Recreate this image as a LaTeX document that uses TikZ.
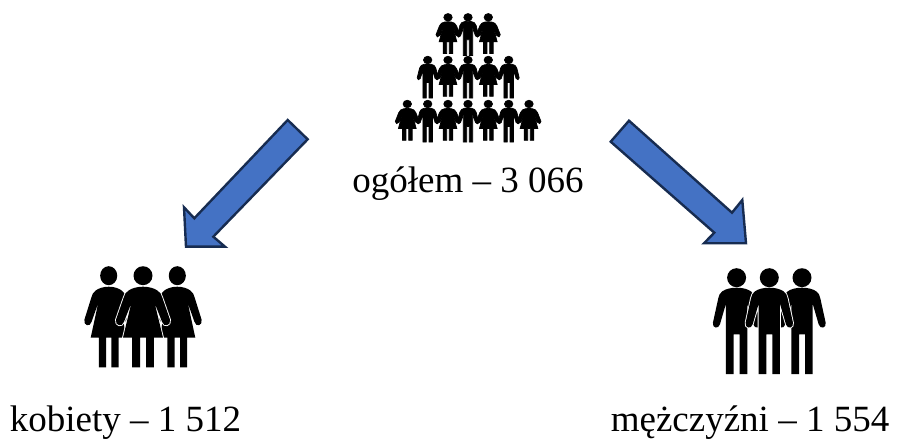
\documentclass[tikz,border=0pt]{standalone}
\usepackage{fontspec}
\setmainfont{Liberation Serif}
\definecolor{arrowfill}{HTML}{4472C4}
\definecolor{arrowline}{HTML}{172C51}
\newcommand{\womanbody}{(0,33)
      .. controls (18,33) and (35,38) .. (44,45)
      .. controls (52,50) and (55,56) .. (58,66)
      -- (81,132) .. controls (85,150) and (62,156) .. (57,138)
      -- (35,82) -- (60,186) -- (33,186) -- (33,275) -- (9,275) -- (9,186)
      -- (-9,186) -- (-9,275) -- (-33,275) -- (-33,186) -- (-60,186) -- (-35,82)
      -- (-57,138) .. controls (-62,156) and (-85,150) .. (-81,132)
      -- (-58,66) .. controls (-55,56) and (-52,50) .. (-44,45)
      .. controls (-35,38) and (-18,33) .. (0,33) -- cycle}
\newcommand{\manbody}{(0,30)
      .. controls (18,30) and (33,34) .. (43,41)
      .. controls (50,46) and (53,52) .. (55,62)
      -- (71,135) .. controls (74,152) and (54,155) .. (50,140)
      -- (32,78) -- (32,289) -- (9,289) -- (9,170) -- (-9,170) -- (-9,289)
      -- (-32,289) -- (-32,78) -- (-50,140)
      .. controls (-54,155) and (-74,152) .. (-71,135)
      -- (-55,62) .. controls (-53,52) and (-50,46) .. (-43,41)
      .. controls (-33,34) and (-18,30) .. (0,30) -- cycle}
\tikzset{
  blockarrow/.style={fill=arrowfill,draw=arrowline,line width=2.4pt,line join=miter},
  caption/.style={font=\fontsize{37}{40}\selectfont,anchor=base,inner sep=0pt},
  halo/.style={draw=white,line width=1.8pt,line join=round},
  tiny figure/.style={xscale=0.148,yscale=0.132},
  woman/.pic={
    \path[halo] \womanbody;
    \fill[black] \womanbody;
    \fill[black] (0,0) circle (28.5);
  },
  man/.pic={
    \path[halo] \manbody;
    \fill[black] \manbody;
    \fill[black] (0,0) circle (28.5);
  },
  tiny woman/.pic={
    \path[fill=black,draw=black,line width=0.7pt] \womanbody;
    \path[fill=black,draw=black,line width=0.7pt] (0,0) circle (28.5);
  },
  tiny man/.pic={
    \path[fill=black,draw=black,line width=0.7pt] \manbody;
    \path[fill=black,draw=black,line width=0.7pt] (0,0) circle (28.5);
  }
}
\begin{document}
\begin{tikzpicture}[x=1pt,y=-1pt]
\useasboundingbox (0,0) rectangle (898,441);
% small crowd
\foreach \kind/\px in {tiny man/468,tiny woman/448,tiny woman/488.3}{
  \path (\px,17.3) pic[tiny figure] {\kind};}
\foreach \kind/\px in {tiny man/427.7,tiny man/508.7,tiny man/468,tiny woman/448,tiny woman/488.3}{
  \path (\px,60) pic[tiny figure] {\kind};}
\foreach \kind/\px in {tiny woman/407.3,tiny woman/529,tiny man/427.7,tiny man/508.7,tiny woman/448,tiny woman/488.3,tiny man/468}{
  \path (\px,104) pic[tiny figure] {\kind};}
% big groups
\foreach \px in {108.7,177.3}{
  \path (\px,275.7) pic[xscale=0.3,yscale=0.3333] {woman};}
\path (143,275.7) pic[scale=0.3333] {woman};
\foreach \px in {736.6,802,769.3}{
  \path (\px,277.7) pic[scale=0.3333] {man};}
% arrows
\draw[blockarrow] (287.7,120) -- (307.7,139.3) -- (213.3,236.7) -- (225,246.7)
  -- (186,246.7) -- (184,207.3) -- (194.3,218.3) -- cycle;
\draw[blockarrow] (629,120.7) -- (610.7,141.7) -- (714.3,232.7) -- (704,243.3)
  -- (746,243.3) -- (742.3,200) -- (732,212.7) -- cycle;
% labels
\node[caption] (total) at (468,193) {ogółem – 3 066};
\node[caption] (women) at (125.5,431) {kobiety – 1 512};
\node[caption] (men) at (750,431) {mężczyźni – 1 554};
\end{tikzpicture}
\end{document}
